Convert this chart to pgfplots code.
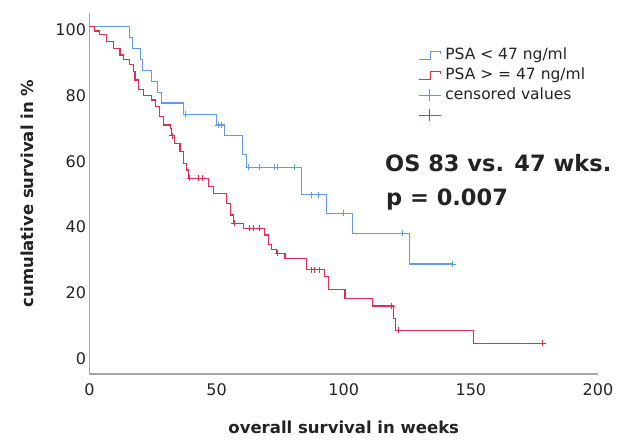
\documentclass[border=0pt]{standalone}
\usepackage{pgfplots}
\pgfplotsset{compat=1.18}
\usepackage{fontspec}
\setmainfont{DejaVu Sans}
\definecolor{blueC}{RGB}{95,155,232}
\definecolor{redC}{RGB}{224,45,82}
\definecolor{axisgray}{RGB}{165,165,165}
\definecolor{txt}{RGB}{35,35,35}
\begin{document}
\begin{tikzpicture}
\path[use as bounding box] (-89.5pt,-68pt) rectangle (544.5pt,374pt);
\begin{axis}[
 scale only axis, width=508.5pt, height=360.7pt, clip=false,
 xmin=0, xmax=200, ymin=-5.8, ymax=104,
 axis x line*=bottom, axis y line*=left,
 axis line style={axisgray, line width=1.3pt, -},
 xtick={0,50,100,150,200}, ytick={0,20,40,60,80,100},
 major tick length=0pt,
 /pgf/number format/assume math mode=true,
 ticklabel style={font=\fontsize{16}{19}\selectfont, text=txt},
 xticklabel style={yshift=-6pt},
 yticklabel style={yshift=-3.5pt},
 xlabel={overall survival in weeks}, ylabel={cumulative survival in \%},
 label style={font=\bfseries\fontsize{16.5}{19}\selectfont, text=txt},
 xlabel style={at={(axis description cs:0.5,-0.147)}, anchor=center},
 ylabel style={at={(axis description cs:-0.1225,0.5)}, anchor=center},
 legend cell align=left,
 legend style={at={(rel axis cs:0.646,0.912)}, anchor=north west, draw=none, fill=none,
   font=\fontsize{15.5}{18}\selectfont, text=txt, inner sep=0pt,
   nodes={inner sep=2pt, text height=12pt, text depth=4pt},
   row sep=0pt, column sep=2pt},
]
% PSA < 47 ng/ml
\addplot[const plot, blueC, line width=1.1pt,
  legend image code/.code={\draw[draw=blueC, line width=1pt] (0pt,-4pt) -- (12pt,-4pt) -- (12pt,4pt) -- (22pt,4pt) -- (22pt,1pt);}]
coordinates {
(0,100) (15.9,96.7) (17.0,93.3) (19.9,90.0) (20.8,86.7) (24.5,83.3) (26.7,80.0) (28.4,76.7)
(36.9,73.3) (50.0,70.0) (53.0,66.7) (60.0,61.0) (61.8,57.1) (83.4,48.8) (93.3,43.1)
(103.5,37.0) (125.9,27.7) (142.9,27.7)
};
\addlegendentry{PSA < 47 ng/ml}
% PSA >= 47 ng/ml
\addplot[const plot, redC, line width=1.1pt,
  legend image code/.code={\draw[draw=redC, line width=1pt] (0pt,-4pt) -- (12pt,-4pt) -- (12pt,4pt) -- (22pt,4pt) -- (22pt,1pt);}]
coordinates {
(0,100) (2.0,98.6) (4.1,97.5) (6.8,95.4) (9.4,93.4) (12.0,91.3) (13.3,89.8) (15.9,88.3)
(17.2,86.2) (17.9,83.7) (19.2,80.7) (21.2,79.1) (24.5,77.6) (25.8,75.6) (27.7,72.5)
(29.0,70.0) (31.7,69.0) (32.3,66.7) (33.6,64.4) (35.6,61.9) (36.9,58.4) (38.2,56.3)
(38.9,53.8) (46.7,51.2) (48.7,49.2) (54.0,46.2) (55.3,42.6) (56.5,40.1) (60.5,38.6)
(69.0,36.5) (70.3,33.5) (71.6,32.0) (73.6,31.0) (76.9,29.4) (85.4,25.9) (92.6,23.8)
(93.9,19.8) (100.5,17.3) (111.4,14.9) (119.5,11.2) (120.5,7.5) (150.9,3.6) (178.3,3.6)
};
\addlegendentry{PSA > = 47 ng/ml}
% censored, blue
\addplot[draw=none, mark=+, mark size=3pt, color=blueC, mark options={solid, line width=0.9pt},
  legend image code/.code={\pgfsetstrokecolor{blueC}\draw[draw=blueC, draw opacity=1, solid, line width=1.1pt] (0pt,0pt) -- (22pt,0pt) (11pt,-6pt) -- (11pt,6pt);}]
coordinates {
(37.9,73.3) (50.7,70.0) (52.0,70.0) (62.7,57.1) (67.0,57.1) (72.9,57.1) (74.1,57.1)
(80.8,57.1) (87.4,48.8) (90.0,48.8) (99.8,43.1) (122.9,37.0) (142.9,27.7)
};
\addlegendentry{censored values}
% censored, red
\addplot[draw=none, mark=+, mark size=3pt, color=redC, mark options={solid, line width=0.9pt},
  legend image code/.code={\pgfsetstrokecolor{redC}\draw[draw=redC, draw opacity=1, solid, line width=1.1pt] (0pt,0pt) -- (22pt,0pt) (11pt,-6pt) -- (11pt,6pt);}]
coordinates {
(32.6,66.7) (39.5,53.8) (42.7,53.8) (44.6,53.8) (57.0,40.1) (63.1,38.6) (64.5,38.6)
(67.0,38.6) (74.0,31.0) (87.4,25.9) (88.5,25.9) (90.6,25.9) (118.8,14.9) (121.5,7.5)
(178.3,3.6)
};
\addlegendentry{\phantom{x}}
\node[anchor=west, inner sep=0pt, font=\bfseries\fontsize{22.5}{26}\selectfont, text=txt] at (axis cs:116.2,58.4) {OS 83 vs. 47 wks.};
\node[anchor=west, inner sep=0pt, font=\bfseries\fontsize{22.5}{26}\selectfont, text=txt] at (axis cs:116.6,47.2) {p = 0.007};
\end{axis}
\end{tikzpicture}
\end{document}
